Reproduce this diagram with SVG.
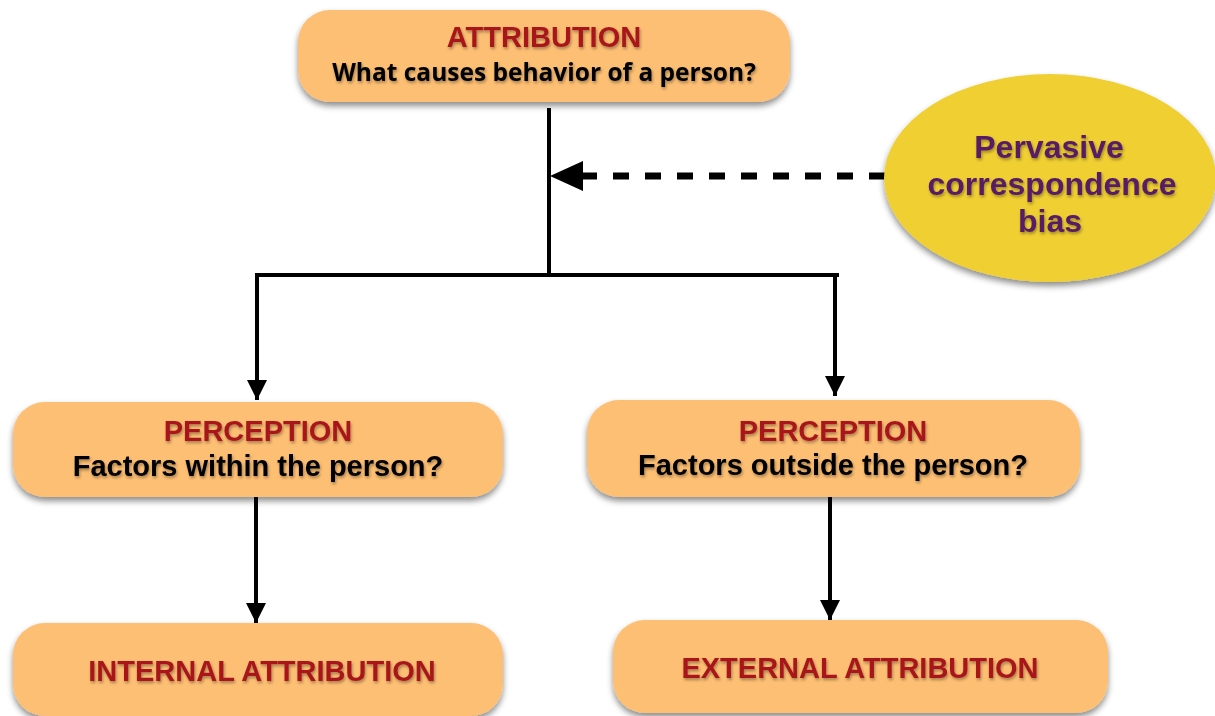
<svg xmlns="http://www.w3.org/2000/svg" width="1215" height="716" viewBox="0 0 1215 716">
<defs>
<filter id="sh" x="-10%" y="-20%" width="120%" height="150%"><feDropShadow dx="0" dy="4" stdDeviation="3" flood-color="#000" flood-opacity="0.45"/></filter>
<filter id="tsh" x="-5%" y="-20%" width="110%" height="160%"><feDropShadow dx="1" dy="2" stdDeviation="1.5" flood-color="#000" flood-opacity="0.35"/></filter>
<marker id="ah" viewBox="0 0 10 10" refX="10" refY="5" markerWidth="5" markerHeight="5" markerUnits="strokeWidth" orient="auto"><path d="M0,0 L10,5 L0,10 Z" fill="#000"/></marker>
</defs>
<style>
.box{fill:#FDBF73;filter:url(#sh)}
.t{font-family:"Liberation Sans",Arial,sans-serif;font-weight:bold;text-anchor:middle;filter:url(#tsh)}
.red{fill:#A8181A;font-size:29px}
.blk{fill:#000;font-size:29px}
.sub{font-family:"Open Sans","Liberation Sans",sans-serif;font-weight:bold;text-anchor:middle;fill:#000;font-size:24.5px;filter:url(#tsh)}
.pur{fill:#561A66;font-size:32px}
.ln{stroke:#000;stroke-width:4;fill:none}
</style>
<g id="connectors">
<path class="ln" d="M549,108 V275"/>
<path class="ln" d="M255,275 H839"/>
<path class="ln" d="M257,275 V400" marker-end="url(#ah)"/>
<path class="ln" d="M835,275 V396" marker-end="url(#ah)"/>
<path class="ln" d="M256,497 V623" marker-end="url(#ah)"/>
<path class="ln" d="M830,497 V620" marker-end="url(#ah)"/>
<path d="M885,176 H583" stroke="#000" stroke-width="7" stroke-dasharray="16,16" fill="none"/>
<path d="M550,176 L583,161 L583,191 Z" fill="#000"/>
</g>
<g id="attribution">
<rect class="box" x="298" y="10" width="492" height="92" rx="32"/>
<text class="t red" x="544" y="47">ATTRIBUTION</text>
<text class="sub" x="544" y="81">What causes behavior of a person?</text>
</g>
<g id="bias">
<ellipse cx="1050" cy="178" rx="166" ry="104" fill="#EFCF33" filter="url(#sh)"/>
<text class="t pur" x="1049" y="158">Pervasive</text>
<text class="t pur" x="1052" y="195">correspondence</text>
<text class="t pur" x="1050" y="232">bias</text>
</g>
<g id="perception-within">
<rect class="box" x="13" y="402" width="490" height="95" rx="32"/>
<text class="t red" x="258" y="441">PERCEPTION</text>
<text class="t blk" x="258" y="476">Factors within the person?</text>
</g>
<g id="perception-outside">
<rect class="box" x="587" y="400" width="493" height="97" rx="32"/>
<text class="t red" x="833" y="441">PERCEPTION</text>
<text class="t blk" x="833" y="475">Factors outside the person?</text>
</g>
<g id="internal">
<rect class="box" x="13" y="623" width="490" height="93" rx="32"/>
<text class="t red" x="262" y="681">INTERNAL ATTRIBUTION</text>
</g>
<g id="external">
<rect class="box" x="613" y="620" width="495" height="93" rx="32"/>
<text class="t red" x="860" y="678">EXTERNAL ATTRIBUTION</text>
</g>
</svg>
